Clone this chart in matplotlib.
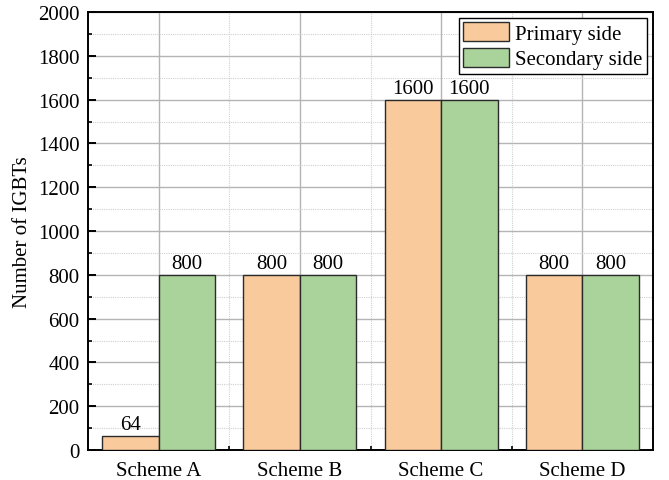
import numpy as np
import matplotlib.pyplot as plt
from matplotlib.ticker import MultipleLocator, FixedLocator

# --- Data ---
schemes = ["Scheme A", "Scheme B", "Scheme C", "Scheme D"]
primary = [64, 800, 1600, 800]
secondary = [800, 800, 1600, 800]

ORANGE = "#F9CA9B"
GREEN = "#A9D39B"

plt.rcParams["font.family"] = ["Liberation Serif", "DejaVu Serif"]
plt.rcParams["font.size"] = 15

fig = plt.figure(figsize=(6.69, 4.81), dpi=100)
ax = fig.add_axes([88 / 669, 1 - 451 / 481, (653 - 88) / 669, (451 - 13) / 481])

x = np.arange(len(schemes))
w = 0.4
b1 = ax.bar(x - w / 2, primary, w, color=ORANGE, edgecolor="#2b2b2b",
            linewidth=1.0, label="Primary side", zorder=3)
b2 = ax.bar(x + w / 2, secondary, w, color=GREEN, edgecolor="#2b2b2b",
            linewidth=1.0, label="Secondary side", zorder=3)

# value labels on top of each bar
for bars, vals in ((b1, primary), (b2, secondary)):
    for r, v in zip(bars, vals):
        ax.text(r.get_x() + r.get_width() / 2, v + 8, str(v),
                ha="center", va="bottom", fontsize=15, zorder=4)

ax.set_xlim(-0.5, 3.5)
ax.set_ylim(0, 2000)
ax.set_xticks(x)
ax.set_xticklabels(schemes)
ax.xaxis.set_minor_locator(FixedLocator([0.5, 1.5, 2.5]))
ax.yaxis.set_major_locator(MultipleLocator(200))
ax.yaxis.set_minor_locator(MultipleLocator(100))
ax.set_ylabel("Number of IGBTs", fontsize=15)

ax.tick_params(which="major", direction="in", length=5.5, width=1.4, pad=6)
ax.tick_params(which="minor", direction="in", length=3, width=1.2)
ax.tick_params(axis="x", which="major", length=0, pad=8)

ax.grid(which="major", color="#b4b4b4", linewidth=1.0, linestyle="-", zorder=0)
ax.grid(which="minor", color="#d0d0d0", linewidth=0.8, linestyle=(0, (1, 1)), zorder=0)
ax.set_axisbelow(True)

for s in ax.spines.values():
    s.set_linewidth(1.4)
    s.set_color("black")

leg = ax.legend(loc="upper right", fancybox=False, framealpha=1,
                edgecolor="black", handlelength=2.2, handleheight=1.0,
                borderpad=0.2, labelspacing=0.2, handletextpad=0.3,
                borderaxespad=0.3, fontsize=15)
leg.get_frame().set_linewidth(1.0)

fig.savefig("out.png", dpi=100)
